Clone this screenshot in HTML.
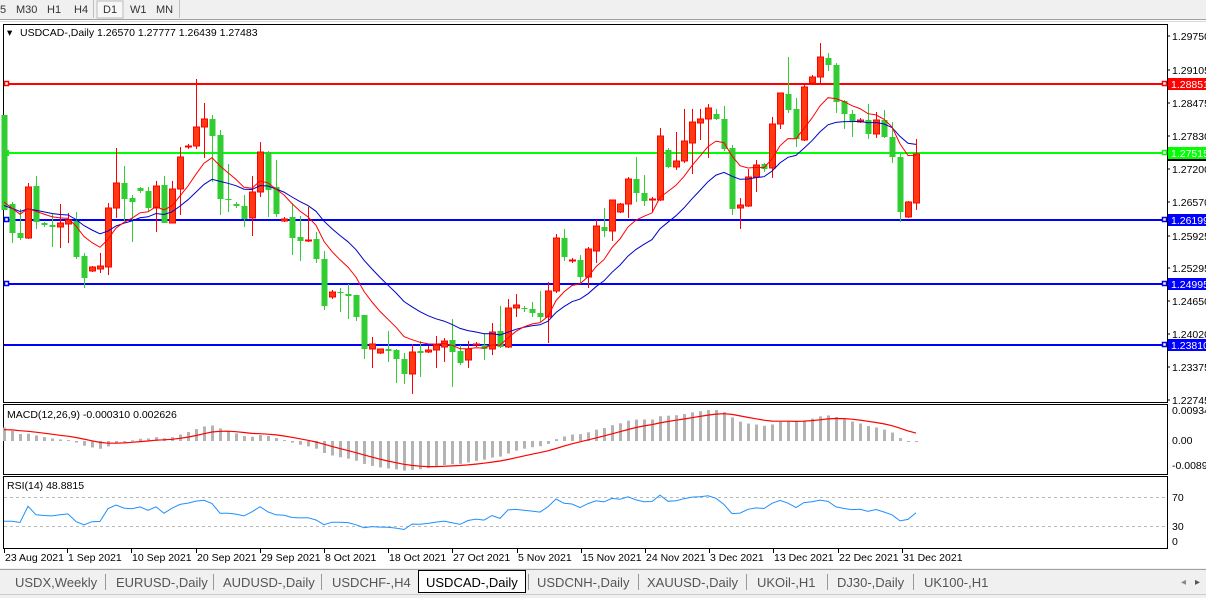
<!DOCTYPE html>
<html><head><meta charset="utf-8"><style>
body{margin:0;width:1206px;height:598px;overflow:hidden;background:#fff;font-family:"Liberation Sans",Tahoma,sans-serif}
svg{position:absolute;left:0;top:0}
</style></head><body>
<svg id="s" width="1206" height="598" xmlns="http://www.w3.org/2000/svg" font-family="Liberation Sans, sans-serif">
<rect x="0" y="0" width="1206" height="20" fill="#f0f0f0"/>
<line x1="0" y1="19.5" x2="1206" y2="19.5" stroke="#a0a0a0"/>
<line x1="0" y1="21.5" x2="1206" y2="21.5" stroke="#d8d8d8"/>
<rect x="97" y="1" width="26" height="17" fill="#f7f7f7" stroke="#bbb"/>
<line x1="93.5" y1="0" x2="93.5" y2="18" stroke="#c0c0c0"/>
<line x1="179.5" y1="0" x2="179.5" y2="18" stroke="#c0c0c0"/>
<g font-size="11" fill="#333">
<text x="0" y="13">5</text><text x="16" y="13">M30</text><text x="47" y="13">H1</text><text x="74" y="13">H4</text>
<text x="103" y="13">D1</text><text x="130" y="13">W1</text><text x="156" y="13">MN</text></g>
<g id="g"></g>
</svg>
<script>
var C=[
[115,210,115,210,'g'],[204,233,202,243,'g'],[233,238,209,240,'g'],[187,238,183,239,'r'],[186,222,176,229,'g'],[223,225,222,227,'g'],[225,227,214,247,'g'],[223,227,204,248,'r'],[220,224,213,243,'r'],[221,257,212,259,'g'],
[256,278,253,288,'g'],[267,271,266,272,'r'],[266,269,253,273,'r'],[208,267,203,275,'r'],[183,208,148,218,'r'],[183,199,166,221,'g'],[198,202,195,242,'g'],[188,191,187,193,'g'],[191,208,187,212,'g'],[186,208,181,232,'r'],
[185,223,176,223,'g'],[189,223,181,223,'r'],[157,189,147,215,'r'],[146,147,144,149,'r'],[127,146,79,149,'r'],[119,127,103,158,'r'],[119,136,115,182,'g'],[135,199,130,215,'g'],[199,200,164,212,'g'],[204,206,202,208,'g'],
[206,219,195,227,'g'],[192,218,176,236,'r'],[152,192,142,197,'r'],[152,190,151,217,'g'],[187,214,160,217,'g'],[219,221,217,222,'r'],[217,238,203,255,'g'],[237,241,216,261,'g'],[240,241,207,242,'r'],[239,259,232,263,'g'],
[259,306,251,310,'g'],[292,297,290,299,'r'],[292,293,288,312,'g'],[294,296,284,319,'g'],[295,317,295,321,'g'],[315,349,315,359,'g'],[344,349,337,368,'r'],[349,353,349,354,'r'],[349,351,331,362,'g'],[350,359,349,383,'g'],
[359,374,353,384,'g'],[352,374,344,394,'r'],[351,353,341,377,'g'],[350,352,346,353,'r'],[345,350,336,368,'r'],[341,347,338,362,'r'],[340,352,319,387,'g'],[351,363,345,365,'g'],[349,360,341,368,'r'],[344,345,342,347,'r'],
[345,349,334,360,'g'],[332,349,323,355,'r'],[331,347,306,348,'g'],[308,347,299,348,'r'],[305,308,294,317,'r'],[308,309,306,312,'g'],[309,313,302,317,'g'],[313,317,291,322,'g'],[291,317,282,343,'r'],[238,291,234,293,'r'],
[238,257,229,261,'g'],[260,261,258,263,'r'],[260,277,255,283,'g'],[249,277,247,288,'r'],[226,251,220,263,'r'],[227,231,208,237,'g'],[200,231,200,241,'r'],[204,212,203,213,'r'],[179,204,177,218,'r'],[179,193,157,202,'g'],
[193,201,175,206,'g'],[199,200,197,212,'r'],[136,200,128,201,'r'],[150,167,148,168,'g'],[161,167,132,170,'r'],[141,161,109,163,'r'],[122,143,109,174,'r'],[119,123,109,140,'r'],[108,119,104,158,'r'],[114,119,109,120,'g'],
[119,149,106,151,'g'],[148,209,145,215,'g'],[205,208,198,229,'r'],[177,206,169,207,'r'],[165,177,160,192,'r'],[164,169,163,172,'g'],[124,168,117,178,'r'],[93,124,93,129,'r'],[94,110,57,113,'g'],[109,139,98,147,'g'],
[87,140,85,141,'r'],[77,83,75,83,'r'],[57,77,43,83,'r'],[58,65,53,71,'g'],[65,102,63,113,'g'],[101,114,100,129,'g'],[114,122,110,137,'g'],[120,122,118,123,'r'],[120,134,104,139,'g'],[120,134,112,138,'r'],
[120,137,110,138,'g'],[137,157,122,163,'g'],[157,212,153,222,'g'],[202,217,201,218,'r'],[154,203,139,210,'r']];
var o='';
function X(i){return 4+8*i;}
o+='<rect x="3.5" y="24.5" width="1164" height="378" fill="none" stroke="#000"/>';
o+='<rect x="3.5" y="404.5" width="1164" height="70" fill="none" stroke="#000"/>';
o+='<rect x="3.5" y="476.5" width="1164" height="72" fill="none" stroke="#000"/>';
var H=[[84,'#ff0000','1.28851',1],[153,'#00ff00','1.27515',2],[220,'#0000ff','1.26199',1],[284,'#0000ff','1.24995',1],[345,'#0000ff','1.23810',0]];
H.forEach(function(h){o+='<rect x="4" y="'+(h[0]-1)+'" width="1163" height="2" fill="'+h[1]+'"/>';
 if(h[3]==1)o+='<rect x="4.5" y="'+(h[0]-2.5)+'" width="4" height="4" fill="#fff" stroke="'+h[1]+'" stroke-width="1.5"/>';
 if(h[3]==2)o+='<rect x="4" y="'+(h[0]-3)+'" width="5" height="6" fill="'+h[1]+'"/>';
 o+='<rect x="1162.5" y="'+(h[0]-2.5)+'" width="4" height="4" fill="#fff" stroke="'+h[1]+'" stroke-width="1.5"/>';
 o+='<rect x="1168" y="'+(h[0]-6)+'" width="38" height="12" fill="'+h[1]+'"/>';
 o+='<text x="1171" y="'+(h[0]+4)+'" font-size="10.5" fill="#fff">'+h[2]+'</text>';});
o+='<rect x="1168" y="159" width="38" height="2" fill="#000"/>';
[['1.29750',36],['1.29105',70],['1.28475',103],['1.27830',136],['1.27200',169],['1.26570',202],['1.25925',236],['1.25295',268],['1.24650',301],['1.24020',334],['1.23375',367],['1.22745',400]].forEach(function(l){
 o+='<line x1="1167" y1="'+l[1]+'" x2="1170" y2="'+l[1]+'" stroke="#000"/><text x="1172" y="'+(l[1]+4)+'" font-size="10.5" fill="#000">'+l[0]+'</text>';});
var cl=C.map(function(c){return c[4]=='r'?c[0]:c[1];});
function ema(a,p,seed){var k=2/(p+1),r=[],v=seed;a.forEach(function(x){v=v+k*(x-v);r.push(v);});return r;}
var red=ema(cl,9,200), blue=ema(cl,18,205);
function pl(a,col,w){var s='';a.forEach(function(v,i){s+=(i?'L':'M')+X(i)+' '+v.toFixed(1);});return '<path d="'+s+'" fill="none" stroke="'+col+'" stroke-width="'+w+'"/>';}
C.forEach(function(c,i){var x=X(i),col=c[4]=='r'?'#ff0000':'#32cd32',fill=c[4]=='r'?'#ff3a10':'#32cd32';
 o+='<line x1="'+(x+.5)+'" y1="'+c[2]+'" x2="'+(x+.5)+'" y2="'+c[3]+'" stroke="'+col+'"/>';
 var h=Math.max(c[1]-c[0],1);
 o+='<rect x="'+(x-2.5)+'" y="'+c[0]+'" width="6" height="'+h+'" fill="'+fill+'" stroke="'+col+'" stroke-width="'+(c[4]=='r'?1:0)+'"/>';});
o+=pl(blue,'#0000cc',1)+pl(red,'#ff0000',1);
var e12=ema(cl,12,185),e26=ema(cl,26,208),m=e12.map(function(v,i){return -(v-e26[i]);});
var sg=[],sv=m[0]*0.8;m.forEach(function(v){sv=sv+0.2*(v-sv);sg.push(sv);});
var sc=0.7,z=441;
m.forEach(function(v,i){var y=z-v*sc;o+='<rect x="'+(X(i)-1)+'" y="'+Math.min(y,z)+'" width="3" height="'+Math.max(Math.abs(y-z),1)+'" fill="#b4b4b4"/>';});
o+=pl(sg.map(function(v){return z-v*sc;}),'#ff0000',1.2);
var ag=0,al=0,r=[];for(var i=1;i<cl.length;i++){var d=cl[i-1]-cl[i];var g=d>0?d:0,l=d<0?-d:0;if(i==1){ag=3;al=3.3;}ag=(ag*13+g)/14;al=(al*13+l)/14;r.push(100-100/(1+ag/al));}
r.unshift(r[0]);
o+='<line x1="4" y1="497.5" x2="1167" y2="497.5" stroke="#bbb" stroke-dasharray="3,3"/><line x1="4" y1="526.5" x2="1167" y2="526.5" stroke="#bbb" stroke-dasharray="3,3"/>';
o+=pl(r.map(function(v){return 548-v*0.72;}),'#1e90ff',1);
o+='<text x="7" y="36" font-size="10.5">▾</text><text x="20" y="36" font-size="10.5" fill="#000">USDCAD-,Daily  1.26570 1.27777 1.26439 1.27483</text>';
o+='<text x="7" y="418" font-size="10.5">MACD(12,26,9) -0.000310 0.002626</text>';
o+='<text x="7" y="489" font-size="10.5">RSI(14) 48.8815</text>';
[['0.009345',414],['0.00',444],['-0.0089',469]].forEach(function(l){o+='<text x="1172" y="'+l[1]+'" font-size="10.5">'+l[0]+'</text>';});
[['70',501],['30',530],['0',545]].forEach(function(l){o+='<text x="1172" y="'+l[1]+'" font-size="10.5">'+l[0]+'</text>';});
['23 Aug 2021','1 Sep 2021','10 Sep 2021','20 Sep 2021','29 Sep 2021','8 Oct 2021','18 Oct 2021','27 Oct 2021','5 Nov 2021','15 Nov 2021','24 Nov 2021','3 Dec 2021','13 Dec 2021','22 Dec 2021','31 Dec 2021'].forEach(function(d,i){var x=4+64*i-(i>0?1:0)+Math.round(i*0.2);
 o+='<line x1="'+(x+.5)+'" y1="549" x2="'+(x+.5)+'" y2="553" stroke="#000"/><text x="'+(x+1)+'" y="561" font-size="10.5">'+d+'</text>';});
o+='<rect x="0" y="568" width="1206" height="30" fill="#f0f0f0"/><line x1="0" y1="569.5" x2="1206" y2="569.5" stroke="#a0a0a0"/>';
o+='<rect x="418.5" y="570.5" width="107" height="22" fill="#fff" stroke="#000"/>';
[['USDX,Weekly',15],['EURUSD-,Daily',116],['AUDUSD-,Daily',223],['USDCHF-,H4',332],['USDCAD-,Daily',426],['USDCNH-,Daily',537],['XAUUSD-,Daily',647],['UKOil-,H1',757],['DJ30-,Daily',837],['UK100-,H1',924]].forEach(function(t,i){
 o+='<text x="'+t[1]+'" y="587" font-size="13" fill="'+(i==4?'#000':'#555')+'">'+t[0]+'</text>';});
[105,213,321,528,638,746,827,913].forEach(function(x){o+='<line x1="'+(x+.5)+'" y1="574" x2="'+(x+.5)+'" y2="590" stroke="#999"/>';});
o+='<text x="1181" y="585" font-size="10" fill="#888">◂</text><text x="1195" y="585" font-size="10" fill="#555">▸</text>';
o+='<line x1="0" y1="594.5" x2="1206" y2="594.5" stroke="#ccc"/>';
document.getElementById('g').innerHTML=o;
</script>
</body></html>
